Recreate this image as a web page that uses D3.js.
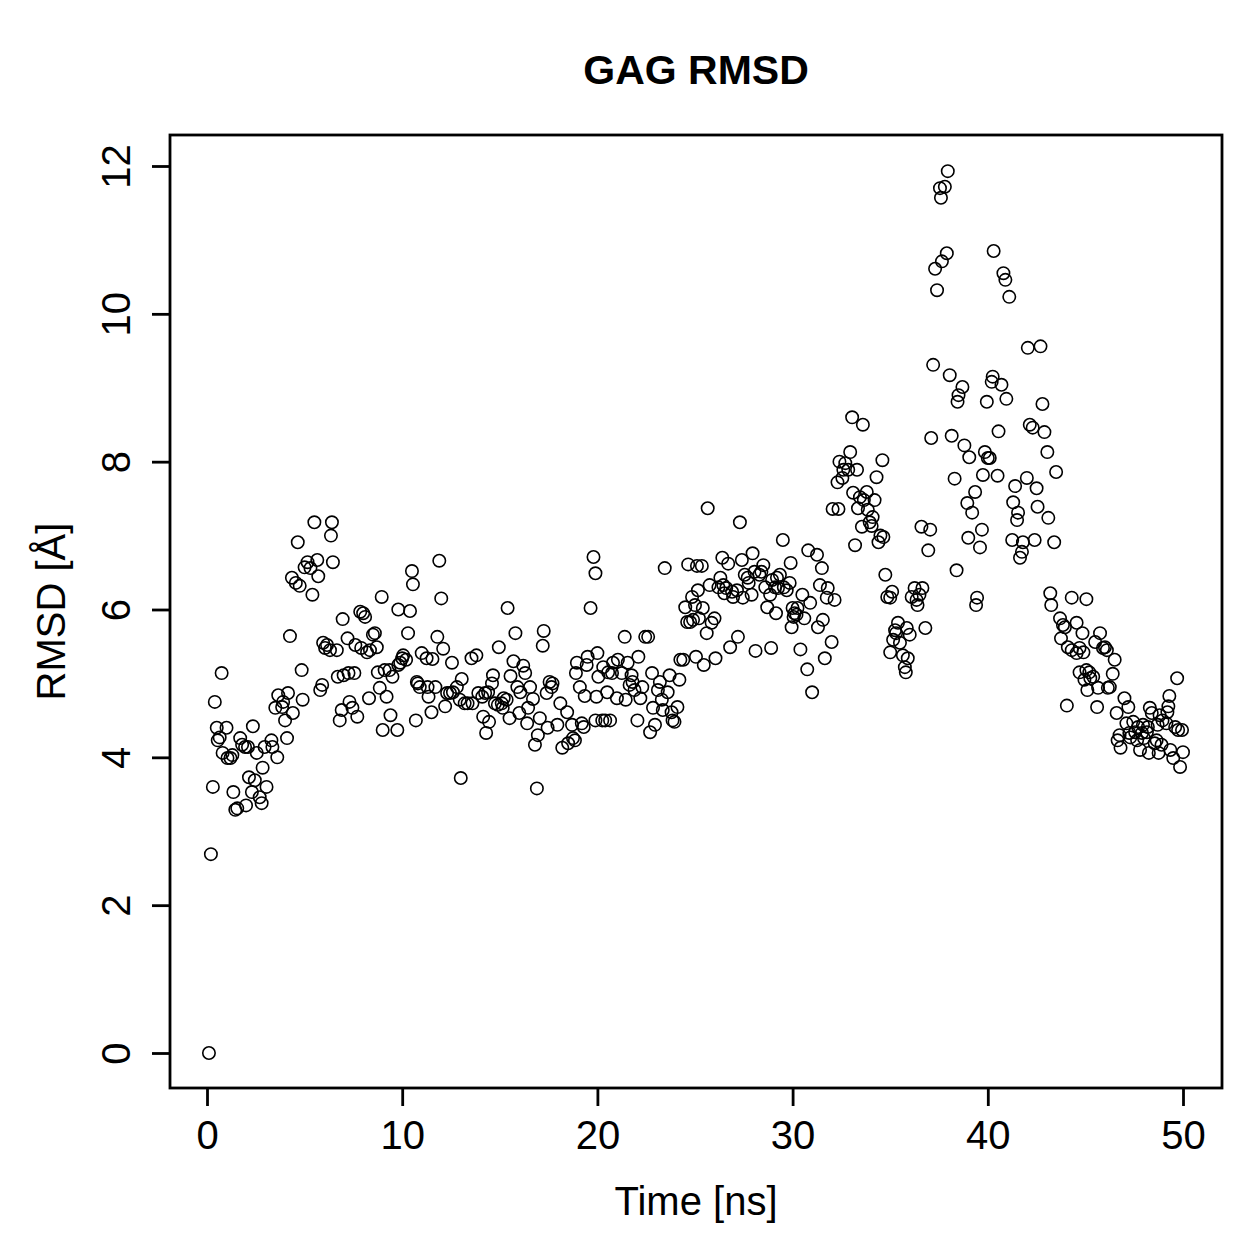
<!DOCTYPE html>
<html>
<head>
<meta charset="utf-8">
<script src="https://cdn.jsdelivr.net/npm/d3@7"></script>
<style>
  body { margin: 0; background: #fff; }
  svg { display: block; font-family: "Liberation Sans", Arial, Helvetica, sans-serif; }
</style>
</head>
<body>
<div id="chart"></div>
<script>
// Time (ns) of each sample
const timeNs = [
  0.1, 0.2, 0.3, 0.4, 0.5, 0.55, 0.65, 0.75, 0.8, 1.0, 1.05, 1.2, 1.3, 1.35, 1.45, 1.55, 1.7, 1.8, 1.95, 2.0,
  2.1, 2.15, 2.3, 2.35, 2.45, 2.55, 2.7, 2.8, 2.85, 2.95, 3.05, 3.3, 3.35, 3.5, 3.6, 3.65, 3.85, 3.9, 4.0, 4.1,
  4.15, 4.25, 4.35, 4.4, 4.55, 4.65, 4.75, 4.85, 4.9,
  5.0, 5.15, 5.3, 5.4, 5.5, 5.65, 5.7, 5.8, 5.9, 5.95, 6.05, 6.15, 6.3, 6.35, 6.4, 6.45, 6.65, 6.7, 6.8, 6.9,
  6.95, 7.0, 7.2, 7.25, 7.3, 7.45, 7.55, 7.6, 7.7, 7.85, 7.9, 8.0, 8.1, 8.2, 8.3, 8.35, 8.5, 8.6, 8.7, 8.75,
  8.85, 8.95, 9.0, 9.1, 9.2, 9.35, 9.4, 9.5, 9.75, 9.8, 9.8, 9.9, 10.0,
  10.05, 10.3, 10.2, 10.4, 10.5, 10.55, 10.7, 10.75, 10.8, 10.9, 11.0, 11.25, 11.3, 11.35, 11.5, 11.55, 11.7, 11.8, 11.9, 12.0,
  12.1, 12.2, 12.3, 12.45, 12.55, 12.6, 12.8, 12.95, 13.0, 13.05, 13.2, 13.35, 13.55, 13.6, 13.8, 13.9, 14.1, 14.15, 14.25, 14.3,
  14.4, 14.45, 14.6, 14.65, 14.75, 14.9, 14.95, 15.1, 15.15, 15.4,
  15.2, 15.35, 15.5, 15.55, 15.7, 15.8, 15.9, 16.0, 16.05, 16.2, 16.3, 16.4, 16.45, 16.55, 16.7, 16.8, 16.9, 16.95, 17.05, 17.2,
  17.25, 17.4, 17.45, 17.55, 17.65, 17.7, 17.95, 18.1, 18.2, 18.45, 18.5, 18.7, 18.75, 18.85, 18.9, 18.95, 19.1, 19.2, 19.3, 19.35,
  19.45, 19.5, 19.65, 19.8, 19.9, 19.9, 19.95, 20.0, 20.05,
  20.25, 20.3, 20.4, 20.5, 20.55, 20.65, 20.75, 20.8, 21.0, 21.05, 21.25, 21.4, 21.45, 21.55, 21.65, 21.75, 21.8, 21.9, 22.05, 22.1,
  22.2, 22.3, 22.45, 22.6, 22.7, 22.8, 22.85, 22.95, 23.1, 23.2, 23.3, 23.35, 23.45, 23.6, 23.7, 23.8, 23.85, 23.95, 24.1, 24.2,
  24.25, 24.4, 24.5, 24.6, 24.65, 24.75, 24.85, 24.9, 25.0,
  25.1, 25.15, 25.2, 25.05, 25.35, 25.4, 25.45, 25.6, 25.65, 25.75, 25.85, 26.0, 26.05, 26.2, 26.3, 26.4, 26.45, 26.5, 26.6, 26.7,
  26.8, 26.9, 26.95, 27.15, 27.2, 27.3, 27.4, 27.45, 27.55, 27.7, 27.75, 27.9, 27.95, 28.05, 28.1, 28.3, 28.4, 28.5, 28.6, 28.7,
  28.85, 28.9, 28.95, 29.1, 29.15, 29.2, 29.25, 29.35, 29.5, 29.55, 29.7, 29.85, 29.9, 29.95, 30.0, 30.05,
  30.1, 30.2, 30.25, 30.4, 30.5, 30.6, 30.75, 30.8, 30.9, 31.0, 31.25, 31.3, 31.4, 31.5, 31.55, 31.65, 31.75, 31.8, 32.0, 32.05,
  32.15, 32.3, 32.35, 32.4, 32.55, 32.6, 32.7, 32.85, 32.95, 33.05, 33.1, 33.2, 33.3, 33.35, 33.45, 33.6, 33.65, 33.55, 33.8, 33.85,
  33.95, 34.05, 34.1, 34.2, 34.3, 34.4, 34.5, 34.6, 34.65, 34.75, 34.85, 35.0, 35.0,
  35.1, 35.15, 35.25, 35.3, 35.4, 35.5, 35.65, 35.75, 35.8, 35.85, 35.9, 36.0, 36.1, 36.25, 36.35, 36.4, 36.5, 36.6, 36.65, 36.8,
  36.95, 37.05, 37.1, 37.2, 37.3, 37.4, 37.55, 37.6, 37.65, 37.8, 37.9, 37.95, 38.05, 38.15, 38.3, 38.4, 38.45, 38.5, 38.7, 38.8,
  38.95, 39.0, 39.05, 39.2, 39.35, 39.4, 39.45, 39.6, 39.7, 39.75, 39.85,
  39.95, 40.1, 40.0, 40.2, 40.25, 40.3, 40.5, 40.55, 40.7, 40.8, 40.9, 40.95, 41.1, 41.25, 41.3, 41.4, 41.5, 41.55, 41.65, 41.75,
  41.8, 42.0, 42.05, 42.15, 42.3, 42.4, 42.5, 42.55, 42.7, 42.8, 42.9, 43.05, 43.1, 43.2, 43.25, 43.4, 43.5, 43.7, 43.75, 43.85,
  43.95, 44.05, 44.1, 44.3, 44.3, 44.55, 44.55, 44.7, 44.7, 44.85, 44.9, 44.95,
  45.05, 45.05, 45.1, 45.2, 45.25, 45.4, 45.5, 45.6, 45.65, 45.75, 45.9, 46.0, 46.1, 46.15, 46.25, 46.4, 46.5, 46.6, 46.65, 46.75,
  46.8, 47.0, 47.1, 47.2, 47.25, 47.3, 47.45, 47.55, 47.65, 47.7, 47.8, 47.9, 47.95, 48.0, 48.15, 48.2, 48.25, 48.3, 48.4, 48.55,
  48.65, 48.7, 48.75, 48.8, 48.9, 48.95, 49.15, 49.2, 49.25, 49.3, 49.35, 49.5, 49.6, 49.7, 49.75, 49.85, 49.95, 50.0
];

// RMSD (Angstrom) for each sample above
const rmsd = [
  0, 2.69, 3.6, 4.75, 4.40, 4.23, 4.27, 5.14, 4.06, 4.40, 3.99, 3.99, 4.03, 3.53, 3.29, 3.31, 4.26, 4.17, 4.14, 3.35,
  4.14, 3.73, 3.53, 4.42, 3.69, 4.06, 3.46, 3.38, 3.86, 4.14, 3.60, 4.23, 4.14, 4.67, 4.00, 4.84, 4.68, 4.75, 4.50, 4.26,
  4.87, 5.64, 6.43, 4.60, 6.36, 6.91, 6.32, 5.18, 4.78,
  6.57, 6.64, 6.56, 6.2, 7.18, 6.67, 6.45, 4.91, 4.98, 5.55, 5.48, 5.52, 5.45, 7.0, 7.18, 6.64, 5.45, 5.09, 4.50, 4.64,
  5.87, 5.11, 5.61, 5.14, 4.75, 4.67, 5.14, 5.52, 4.55, 5.97, 5.48, 5.95, 5.90, 5.42, 4.80, 5.45, 5.66, 5.68, 5.49, 5.15,
  4.94, 6.17, 4.37, 5.18, 4.82, 5.18, 4.57, 5.09, 4.37, 6.0, 5.25, 5.28, 5.34,
  5.38, 5.68, 5.32, 5.98, 6.52, 6.34, 4.50, 5.02, 5.0, 4.95, 5.41, 5.34, 4.95, 4.82, 4.61, 5.33, 4.95, 5.63, 6.66, 6.15,
  5.47, 4.69, 4.87, 4.87, 5.28, 4.88, 4.95, 4.78, 3.72, 5.06, 4.73, 4.73, 5.34, 4.73, 5.38, 4.87, 4.82, 4.55, 4.87, 4.33,
  4.88, 4.48, 5.0, 5.11, 4.73, 4.71, 5.49, 4.73, 4.67, 6.02,
  4.80, 4.78, 4.53, 5.10, 5.30, 5.68, 4.95, 4.60, 4.88, 5.24, 5.14, 4.46, 4.67, 4.95, 4.79, 4.17, 3.58, 4.30, 4.53, 5.51,
  5.71, 4.87, 4.40, 5.02, 4.95, 5.0, 4.44, 4.73, 4.13, 4.61, 4.19, 4.44, 4.26, 4.23, 5.14, 5.28, 4.95, 4.46, 4.41, 4.83,
  5.25, 5.36, 6.02, 6.71, 6.49, 4.50, 4.82, 5.41, 5.09,
  4.50, 5.22, 4.50, 4.88, 5.15, 4.50, 5.14, 5.28, 4.80, 5.32, 5.14, 5.63, 4.78, 5.28, 4.98, 5.11, 5.02, 4.91, 4.50, 5.36,
  4.80, 4.95, 5.63, 5.63, 4.34, 5.14, 4.67, 4.44, 4.91, 5.02, 4.78, 4.64, 6.56, 4.88, 5.11, 4.61, 4.50, 4.48, 4.68, 5.05,
  5.32, 5.32, 6.03, 5.83, 6.61, 5.83, 6.17, 5.86, 6.06,
  6.59, 6.26, 5.88, 5.36, 6.59, 6.02, 5.25, 5.68, 7.37, 6.33, 5.82, 5.88, 5.34, 6.30, 6.43, 6.70, 6.33, 6.22, 6.29, 6.62,
  5.49, 6.24, 6.17, 6.26, 5.63, 7.18, 6.67, 6.16, 6.47, 6.43, 6.36, 6.20, 6.76, 6.51, 5.44, 6.47, 6.51, 6.60, 6.30, 6.03,
  6.20, 5.48, 6.40, 6.30, 5.95, 6.43, 6.29, 6.47, 6.94, 6.30, 6.26, 6.36, 6.63, 5.76, 6.02, 5.90,
  5.95, 5.93, 6.02, 5.46, 6.2, 5.88, 5.19, 6.80, 6.09, 4.88, 6.74, 5.76, 6.33, 6.56, 5.86, 5.34, 6.16, 6.29, 5.56, 7.36,
  6.13, 7.72, 7.36, 8.0, 7.78, 7.89, 7.98, 7.89, 8.13, 8.60, 7.58, 6.87, 7.89, 7.37, 7.52, 8.50, 7.48, 7.12, 7.59, 7.35,
  7.18, 7.13, 7.25, 7.48, 7.79, 6.91, 7.0, 8.02, 6.98, 6.47, 6.17, 6.16, 5.42,
  6.24, 5.59, 5.72, 5.68, 5.82, 5.55, 5.38, 5.22, 5.15, 5.75, 5.34, 5.66, 6.17, 6.29, 6.13, 6.06, 6.20, 7.12, 6.29, 5.75,
  6.80, 7.08, 8.32, 9.31, 10.61, 10.32, 11.70, 11.57, 10.71, 11.72, 10.82, 11.93, 9.17, 8.35, 7.77, 6.53, 8.81, 8.90, 9.01, 8.22,
  7.44, 6.97, 8.06, 7.31, 7.59, 6.06, 6.16, 6.84, 7.08, 7.82, 8.13,
  8.81, 8.05, 8.05, 9.08, 9.15, 10.85, 7.81, 8.41, 9.04, 10.55, 10.46, 8.85, 10.23, 6.94, 7.45, 7.67, 7.21, 7.31, 6.70, 6.78,
  6.91, 7.78, 9.54, 8.50, 8.46, 6.94, 7.64, 7.39, 9.56, 8.78, 8.40, 8.13, 7.24, 6.22, 6.06, 6.91, 7.86, 5.88, 5.61, 5.79,
  5.76, 4.70, 5.49, 6.16, 5.45, 5.82, 5.41, 5.48, 5.15, 5.68, 5.42, 5.05,
  6.14, 5.18, 4.91, 5.15, 5.07, 5.09, 5.56, 4.68, 4.94, 5.68, 5.48, 5.49, 5.45, 4.94, 4.95, 5.13, 5.32, 4.60, 4.23, 4.30,
  4.13, 4.80, 4.46, 4.68, 4.33, 4.27, 4.48, 4.34, 4.23, 4.41, 4.10, 4.33, 4.44, 4.26, 4.34, 4.41, 4.06, 4.67, 4.60, 4.19,
  4.23, 4.44, 4.06, 4.57, 4.17, 4.50, 4.46, 4.61, 4.69, 4.83, 4.10, 3.99, 4.41, 5.07, 4.37, 3.87, 4.37, 4.07
];

const xTicks = [0, 10, 20, 30, 40, 50];
const yTicks = [0, 2, 4, 6, 8, 10, 12];

const chartTitle = 'GAG RMSD';
const xLabel = 'Time [ns]';
const yLabel = 'RMSD [Å]';

const width = 1259;
const height = 1259;
// plot box, as R draws it
const box = { left: 170, right: 1222, top: 135, bottom: 1088 };

const svg = d3.select('#chart')
    .append('svg')
    .attr('width', width)
    .attr('height', height);

svg.append('rect')
    .attr('width', width)
    .attr('height', height)
    .attr('fill', '#fff');

const x = d3.scaleLinear()
    .domain([0, 50])
    .range([207, 1183]);

const y = d3.scaleLinear()
    .domain([0, 12])
    .range([1053, 166]);

// points
const points = timeNs.map((t, i) => ({ t: t, v: rmsd[i] }));

svg.append('g')
    .selectAll('circle')
    .data(points)
    .enter()
    .append('circle')
    .attr('cx', d => x(d.t))
    .attr('cy', d => y(d.v))
    .attr('r', 6.2)
    .attr('fill', 'none')
    .attr('stroke', '#000')
    .attr('stroke-width', 1.6);

// x axis
const xAxis = svg.append('g')
    .attr('transform', `translate(0,${box.bottom})`)
    .call(d3.axisBottom(x).tickValues(xTicks).tickSize(18).tickFormat(d3.format('d')));

xAxis.select('.domain').remove();
xAxis.selectAll('line').attr('stroke', '#000').attr('stroke-width', 2.8);
xAxis.selectAll('text')
    .attr('y', 61)
    .attr('dy', null)
    .attr('fill', '#000')
    .attr('font-size', 40)
    .attr('font-family', '"Liberation Sans", Arial, sans-serif');

// y axis, labels turned like R's las = 0
const yAxis = svg.append('g')
    .attr('transform', `translate(${box.left},0)`)
    .call(d3.axisLeft(y).tickValues(yTicks).tickSize(18).tickFormat(d3.format('d')));

yAxis.select('.domain').remove();
yAxis.selectAll('line').attr('stroke', '#000').attr('stroke-width', 2.8);
yAxis.selectAll('text')
    .attr('transform', 'rotate(-90)')
    .attr('x', 0)
    .attr('y', -40)
    .attr('dy', null)
    .attr('text-anchor', 'middle')
    .attr('fill', '#000')
    .attr('font-size', 40)
    .attr('font-family', '"Liberation Sans", Arial, sans-serif');

// box
svg.append('rect')
    .attr('x', box.left)
    .attr('y', box.top)
    .attr('width', box.right - box.left)
    .attr('height', box.bottom - box.top)
    .attr('fill', 'none')
    .attr('stroke', '#000')
    .attr('stroke-width', 2.8);

const midX = (box.left + box.right) / 2;

svg.append('text')
    .attr('x', midX)
    .attr('y', 84)
    .attr('text-anchor', 'middle')
    .attr('font-size', 41)
    .attr('font-weight', 'bold')
    .text(chartTitle);

svg.append('text')
    .attr('x', midX)
    .attr('y', 1215)
    .attr('text-anchor', 'middle')
    .attr('font-size', 40)
    .text(xLabel);

svg.append('text')
    .attr('transform', `translate(65,${(box.top + box.bottom) / 2}) rotate(-90)`)
    .attr('text-anchor', 'middle')
    .attr('font-size', 40)
    .text(yLabel);
</script>
</body>
</html>
